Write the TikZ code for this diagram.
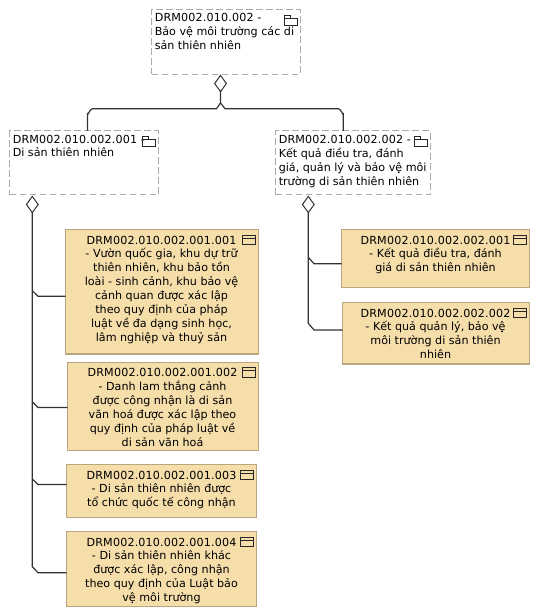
\documentclass[tikz,border=0pt]{standalone}
\usepackage{fontspec}
\setmainfont{DejaVu Sans}
\newfontfamily\idfont[LetterSpace=1.5]{DejaVu Sans}
\usetikzlibrary{arrows.meta}
\definecolor{taskfill}{HTML}{F5DEAA}
\definecolor{taskline}{HTML}{B9A67E}
\definecolor{grpline}{HTML}{ABABAB}
\definecolor{conn}{HTML}{333333}
\tikzset{
  x=0.75pt,y=-0.75pt,
  grp/.style={draw=grpline,dash pattern=on 5.2pt off 2.3pt,line width=0.75pt,fill=white,anchor=north west,inner sep=0pt,outer sep=0pt,rectangle},
  taskbox/.style={draw=taskline,fill=taskfill,line width=0.9pt,anchor=north west,inner sep=0pt,outer sep=0pt,rectangle},
  txt/.style={font=\fontsize{8.35}{10.45}\selectfont,inner sep=0pt,text=black,align=center},
  ltxt/.style={txt,align=left,anchor=north west},
  ctxt/.style={txt,anchor=north},
  agg/.style={draw=conn,line width=0.9pt,{Diamond[open,fill=white,length=13.5pt,width=9.7pt,line width=0.75pt]}-},
  lnk/.style={draw=conn,line width=0.9pt},
  icon/.style={draw=black!85,line width=0.45pt},
}
\newcommand{\folder}[2]{\draw[icon] (#1,#2+3) rectangle (#1+13,#2+10) (#1,#2+3) -- (#1,#2) -- (#1+6,#2) -- (#1+6,#2+3);}
\newcommand{\taskicon}[2]{\draw[icon] (#1,#2) rectangle (#1+12.5,#2+9.5) (#1,#2+3) -- (#1+12.5,#2+3);}
\begin{document}
\begin{tikzpicture}
\useasboundingbox (0,0) rectangle (539,616);
% group boxes
\node[grp,minimum width=111.4pt,minimum height=48.4pt] (top) at (151.5,9.5) {};
\node[grp,minimum width=111.4pt,minimum height=48pt] (a) at (9.5,131) {};
\node[grp,minimum width=115.9pt,minimum height=48pt] (b) at (275.5,131) {};
% task boxes
\node[taskbox,minimum width=144.7pt,minimum height=93.4pt] (a1) at (65.5,229.5) {};
\node[taskbox,minimum width=143.2pt,minimum height=66pt] (a2) at (67.5,362.5) {};
\node[taskbox,minimum width=142.5pt,minimum height=39.7pt] (a3) at (66.5,464.5) {};
\node[taskbox,minimum width=142.5pt,minimum height=56.2pt] (a4) at (66.5,531.5) {};
\node[taskbox,minimum width=141pt,minimum height=43.5pt] (b1) at (341.5,229.5) {};
\node[taskbox,minimum width=140.2pt,minimum height=46.1pt] (b2) at (342.5,302.5) {};
% junction and bend points
\coordinate (tfoot) at (220.5,74.5);
\coordinate (tj) at (220.5,103);
\coordinate (tl) at (216.5,108.7);
\coordinate (tr) at (225,108.7);
\coordinate (tla) at (92.5,108.7);
\coordinate (tlb) at (87.5,114);
\coordinate (tlc) at (87.5,131);
\coordinate (trc) at (343.3,131);
\coordinate (afoot) at (32.3,195.5);
\coordinate (bfoot) at (308.3,195.5);
\coordinate (aend) at (32.3,566.7);
\coordinate (bend) at (308.3,323.3);
\coordinate (a1s) at (32.3,290.7);
\coordinate (a2s) at (32.3,401.7);
\coordinate (a3s) at (32.3,479);
\coordinate (b1s) at (308.3,257.3);
% connectors
\draw[agg] (tfoot) -- (tj) -- (tl) -- (tla) to[out=180,in=-90] (tlb) -- (tlc);
\draw[lnk] (tj) -- (tr) -- (338.3,108.7) to[out=0,in=-90] (343.3,114) -- (trc);
\draw[agg] (afoot) -- (aend) -- (38,572.7) -- (a4.west |- 0,572.7);
\draw[lnk] (a1s) -- (38,296.3) -- (a1.west |- 0,296.3);
\draw[lnk] (a2s) -- (38,407.5) -- (a2.west |- 0,407.5);
\draw[lnk] (a3s) -- (38,484.5) -- (a3.west |- 0,484.5);
\draw[agg] (bfoot) -- (bend) -- (314,330) -- (b2.west |- 0,330);
\draw[lnk] (b1s) -- (314,263.7) -- (b1.west |- 0,263.7);
% texts
\node[ltxt] (topt) at (154.5,13) {{\idfont DRM002.010.002 -}\\Bảo vệ môi trường các di\\sản thiên nhiên};
\node[ltxt] (at) at (12.5,134.5) {{\idfont DRM002.010.002.001 -}\\Di sản thiên nhiên};
\node[ltxt] (bt) at (278.5,134.8) {{\idfont DRM002.010.002.002 -}\\Kết quả điều tra, đánh\\giá, quản lý và bảo vệ môi\\trường di sản thiên nhiên};
\node[ctxt] (a1t) at (161.5,235.5) {{\idfont DRM002.010.002.001.001}\\- Vườn quốc gia, khu dự trữ\\thiên nhiên, khu bảo tồn\\loài - sinh cảnh, khu bảo vệ\\cảnh quan được xác lập\\theo quy định của pháp\\luật về đa dạng sinh học,\\lâm nghiệp và thuỷ sản};
\node[ctxt] (a2t) at (162.5,368) {{\idfont DRM002.010.002.001.002}\\- Danh lam thắng cảnh\\được công nhận là di sản\\văn hoá được xác lập theo\\quy định của pháp luật về\\di sản văn hoá};
\node[ctxt] (a3t) at (161.5,470.5) {{\idfont DRM002.010.002.001.003}\\- Di sản thiên nhiên được\\tổ chức quốc tế công nhận};
\node[ctxt] (a4t) at (161.5,537.5) {{\idfont DRM002.010.002.001.004}\\- Di sản thiên nhiên khác\\được xác lập, công nhận\\theo quy định của Luật bảo\\vệ môi trường};
\node[ctxt] (b1t) at (435.5,235.5) {{\idfont DRM002.010.002.002.001}\\- Kết quả điều tra, đánh\\giá di sản thiên nhiên};
\node[ctxt] (b2t) at (435.5,308.5) {{\idfont DRM002.010.002.002.002}\\- Kết quả quản lý, bảo vệ\\môi trường di sản thiên\\nhiên};
% icons
\folder{284}{15.5}
\folder{142.3}{136.5}
\folder{414.3}{136}
\taskicon{242.3}{235}
\taskicon{242.3}{367.5}
\taskicon{240.7}{470}
\taskicon{240.7}{537}
\taskicon{513.7}{235}
\taskicon{513.7}{308}
\end{tikzpicture}
\end{document}
